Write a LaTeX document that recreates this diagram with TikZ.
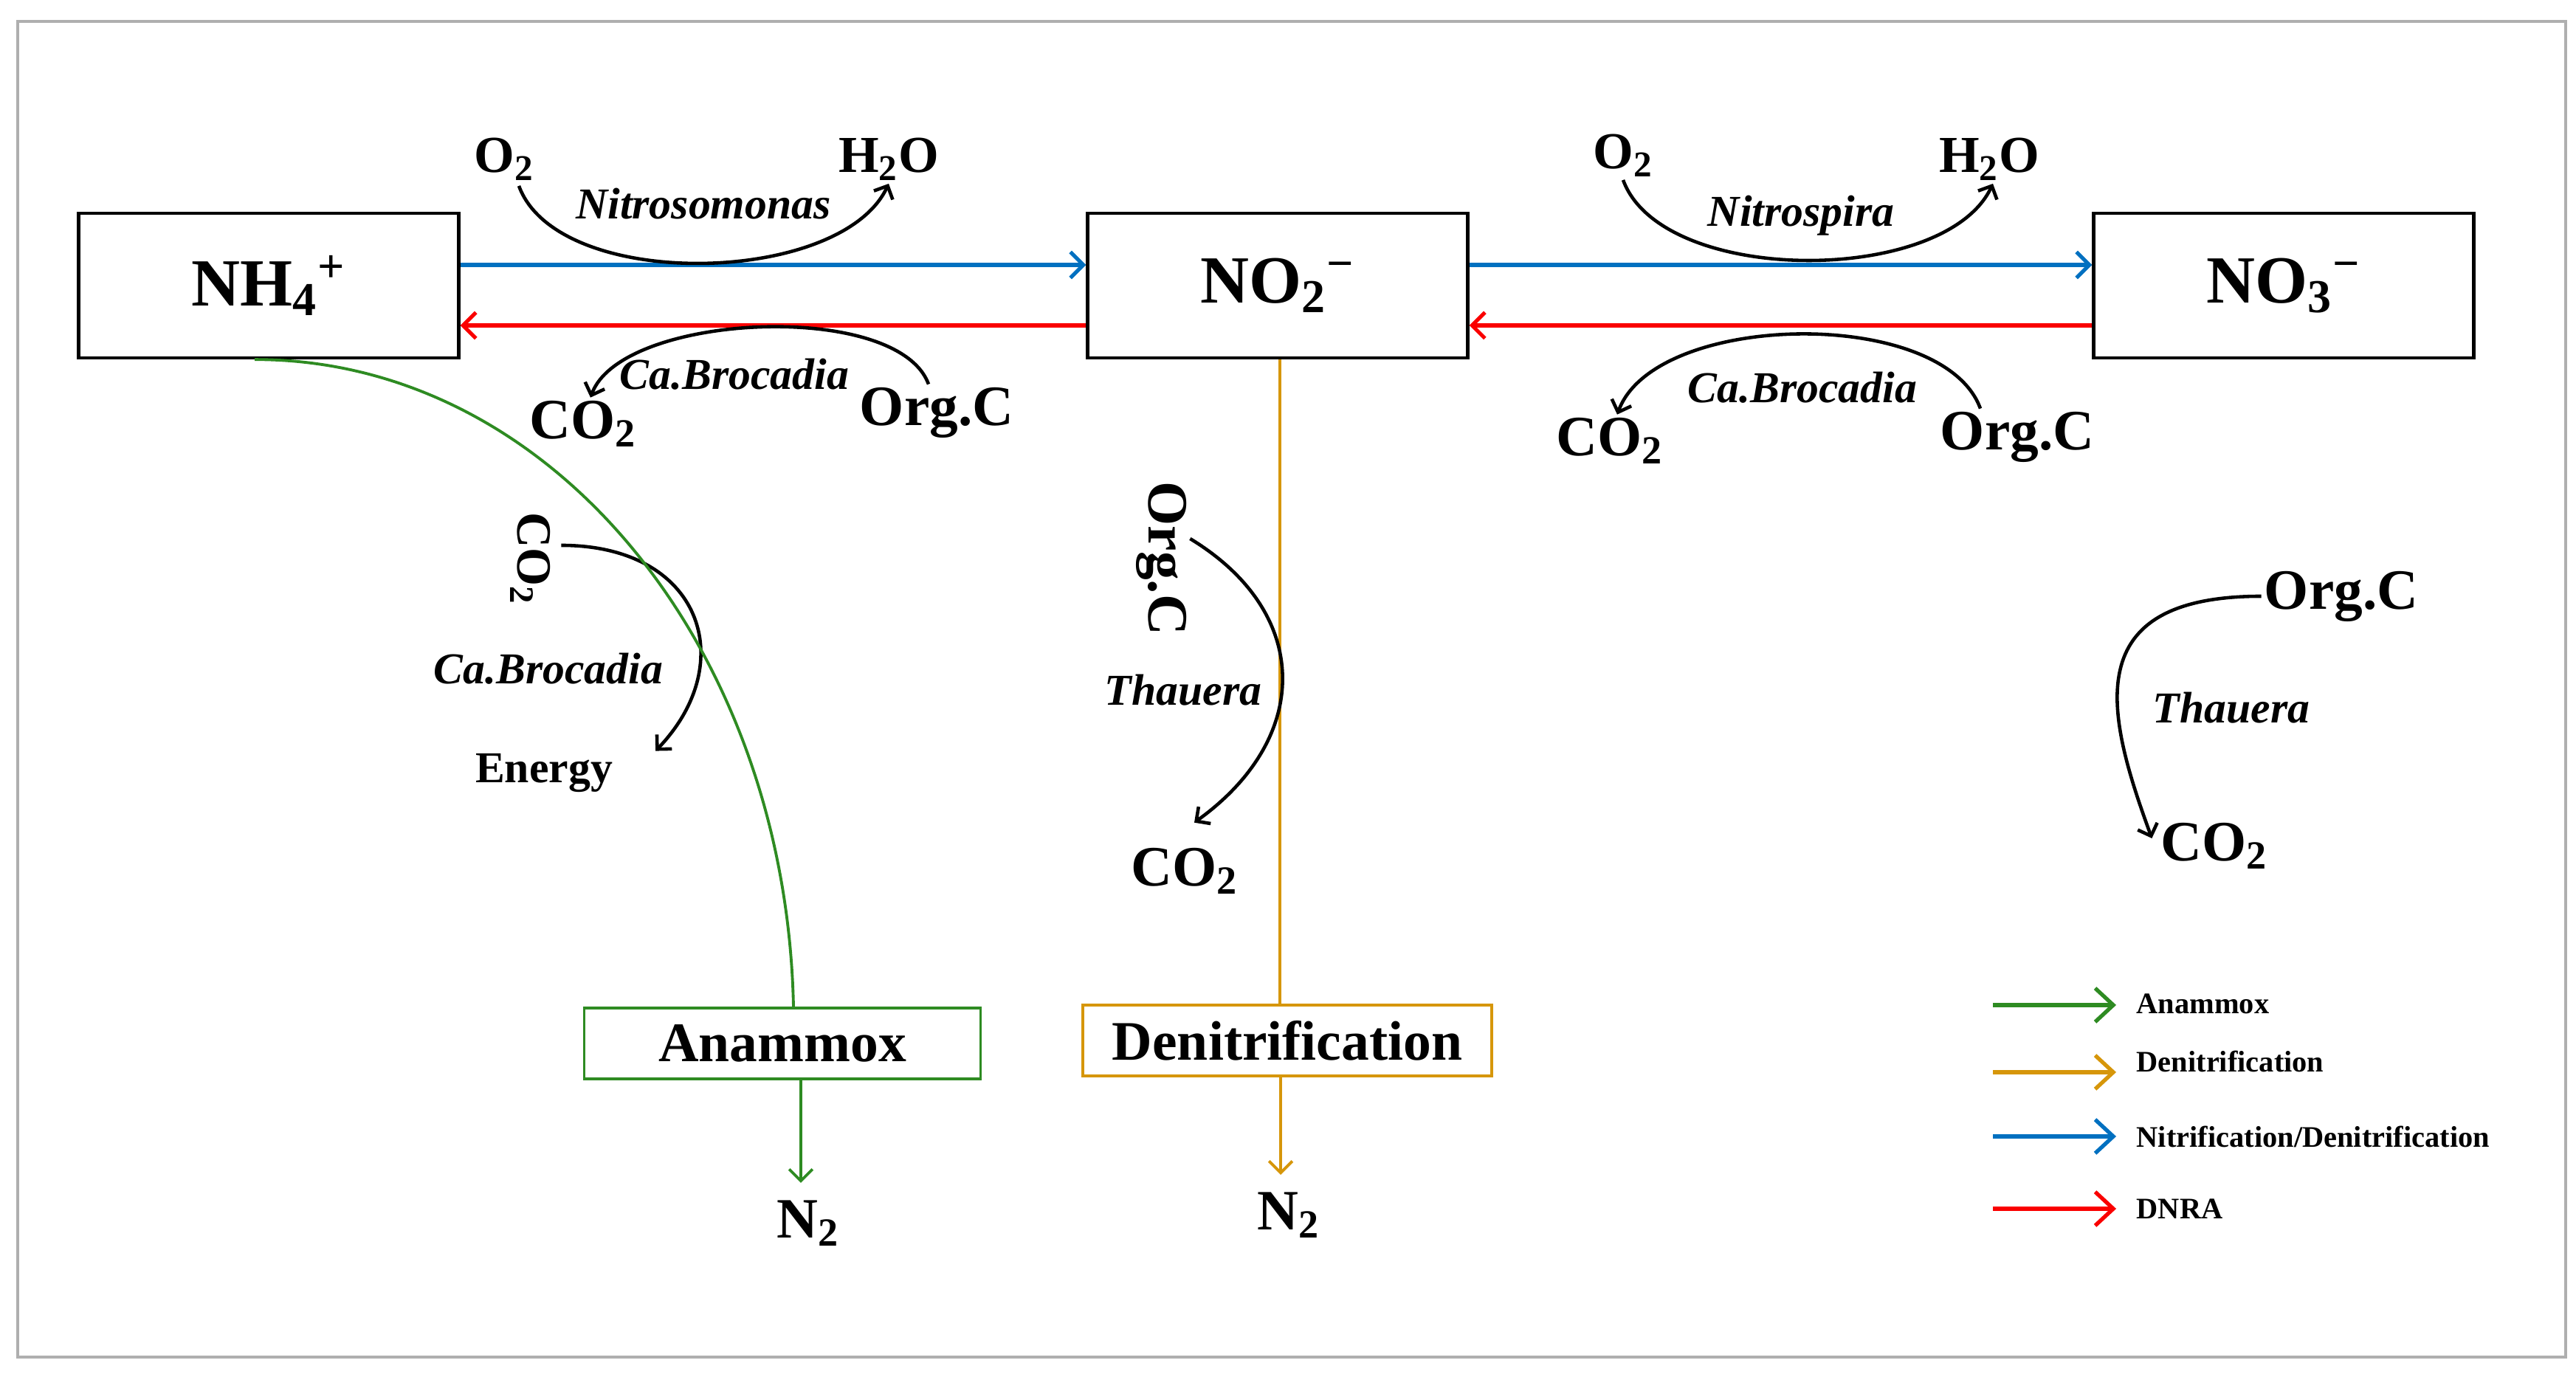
\documentclass[tikz,border=0pt]{standalone}
\usepackage{fontspec}
\setmainfont{Liberation Serif}
\usetikzlibrary{arrows.meta,positioning}

\definecolor{nitblue}{RGB}{0,112,192}
\definecolor{dnrared}{RGB}{250,0,0}
\definecolor{anamgreen}{RGB}{46,139,34}
\definecolor{denitgold}{RGB}{214,150,10}
\definecolor{framegray}{RGB}{175,175,175}

\begin{document}
\begin{tikzpicture}[
    ion/.style={draw, line width=1.25pt, minimum width=5.15cm, minimum height=1.96cm,
        font=\bfseries\fontsize{26}{30}\selectfont},
    proc/.style={draw, line width=1pt, minimum height=0.96cm, inner sep=0pt,
        font=\bfseries\fontsize{21.5}{25}\selectfont},
    gas/.style={inner sep=1pt, font=\bfseries\fontsize{20}{24}\selectfont},
    chem/.style={inner sep=1pt, font=\bfseries\fontsize{22}{26}\selectfont},
    bug/.style={inner sep=1pt, font=\bfseries\itshape\fontsize{17}{20}\selectfont},
    note/.style={inner sep=1pt, font=\bfseries\fontsize{17}{20}\selectfont},
    legtext/.style={anchor=west, inner sep=0pt, font=\bfseries\fontsize{11.5}{14}\selectfont},
    flow/.style={line width=1.45pt, -{Straight Barb[length=5pt,width=10pt]}},
    turn/.style={line width=1.3pt, -{Straight Barb[length=4pt,width=8pt]}},
    legarrow/.style={line width=1.5pt, -{Straight Barb[length=7pt,width=13pt]}},
]
    \useasboundingbox (0,0) rectangle (34.9,18.66);
    \draw[framegray, line width=1.3pt] (0.24,0.27) rectangle (34.76,18.37);

    % Draw the three nitrogen species
    \node[ion] (nh4) at (3.64,14.79) {NH\textsubscript{4}\textsuperscript{+}};
    \node[ion] (no2) at (17.31,14.79) {NO\textsubscript{2}\textsuperscript{\textminus}};
    \node[ion] (no3) at (30.94,14.79) {NO\textsubscript{3}\textsuperscript{\textminus}};

    % Draw the nitrification and DNRA arrows
    \draw[flow, nitblue] ([yshift=0.28cm]nh4.east) -- ([yshift=0.28cm]no2.west);
    \draw[flow, nitblue] ([yshift=0.28cm]no2.east) -- ([yshift=0.28cm]no3.west);
    \draw[flow, dnrared] ([yshift=-0.54cm]no2.west) -- ([yshift=-0.54cm]nh4.east);
    \draw[flow, dnrared] ([yshift=-0.54cm]no3.west) -- ([yshift=-0.54cm]no2.east);

    % Nitrosomonas and Nitrospira
    \node[gas] (o2a) at (6.83,16.50) {O\textsubscript{2}};
    \node[gas] (h2oa) at (12.04,16.50) {H\textsubscript{2}O};
    \node[bug] (nsm) at (9.53,15.90) {Nitrosomonas};
    \draw[turn] ([shift={(0.2,-0.03)}]o2a.south) to[out=-70,in=-115,looseness=0.78] (h2oa.south);

    \node[gas] (o2b) at (21.99,16.55) {O\textsubscript{2}};
    \node[gas] (h2ob) at (26.95,16.50) {H\textsubscript{2}O};
    \node[bug] (nsp) at (24.40,15.74) {Nitrospira};
    \draw[turn] (o2b.south) to[out=-70,in=-115,looseness=0.78] ([xshift=0.05cm]h2ob.south);

    % Ca.Brocadia under the DNRA arrows
    \node[chem] (co2a) at (7.90,12.92) {CO\textsubscript{2}};
    \node[chem] (orga) at (12.69,13.07) {Org.C};
    \node[bug] (cba) at (9.95,13.59) {Ca.Brocadia};
    \draw[turn] ([xshift=-0.11cm]orga.north) to[out=110,in=70,looseness=0.68] ([xshift=0.1cm]co2a.north);

    \node[chem] (co2b) at (21.81,12.69) {CO\textsubscript{2}};
    \node[chem] (orgb) at (27.33,12.74) {Org.C};
    \node[bug] (cbb) at (24.42,13.41) {Ca.Brocadia};
    \draw[turn] ([xshift=-0.5cm]orgb.north) to[out=110,in=70,looseness=0.77] ([xshift=0.1cm]co2b.north);

    % Anammox branch
    \node[chem, rotate=-90, font=\bfseries\fontsize{19}{22}\selectfont] (co2c) at (7.19,11.09) {CO\textsubscript{2}};
    \node[bug] (cbc) at (7.43,9.60) {Ca.Brocadia};
    \node[note] (energy) at (7.37,8.18) {Energy};
    \draw[turn] ([shift={(0.1,0.18)}]co2c.north) .. controls +(1.9,0) and +(1.15,1.2) .. ([shift={(0.54,0)}]energy.north east);

    \node[proc, draw=anamgreen, minimum width=5.37cm] (anam) at (10.60,4.52) {Anammox};
    \node[chem] (n2a) at (10.95,2.08) {N\textsubscript{2}};
    \coordinate (n2atip) at ([shift={(-0.1,0.2)}]n2a.north);
    \draw[anamgreen, line width=1.1pt] ([xshift=-0.19cm]nh4.south) .. controls +(4.03,0) and +(-0.1,4.85) .. ([xshift=0.15cm]anam.north);
    \draw[anamgreen, line width=1.1pt, -{Straight Barb[length=4.5pt,width=9pt]}] (anam.south -| n2atip) -- (n2atip);

    % Denitrification branch
    \node[chem, rotate=-90] (orgc) at (15.74,11.09) {Org.C};
    \node[bug] (thb) at (16.03,9.31) {Thauera};
    \node[chem] (co2d) at (16.05,6.86) {CO\textsubscript{2}};

    \node[proc, draw=denitgold, minimum width=5.54cm] (denit) at (17.44,4.56) {Denitrification};
    \node[chem] (n2b) at (17.46,2.19) {N\textsubscript{2}};
    \coordinate (n2btip) at ([shift={(-0.11,0.2)}]n2b.north);
    \draw[denitgold, line width=1.1pt] ([xshift=0.03cm]no2.south) -- ([xshift=0.03cm]no2.south |- denit.north);
    \draw[denitgold, line width=1.1pt, -{Straight Barb[length=4.5pt,width=9pt]}] (denit.south -| n2btip) -- (n2btip);
    \draw[turn] ([shift={(0.0,0.27)}]orgc.north) .. controls +(1.65,-1.0) and +(1.6,1.15) .. ([shift={(0.13,0.3)}]co2d.north);

    % Heterotrophic denitrification on the right
    \node[chem] (orgd) at (31.72,10.58) {Org.C};
    \node[bug] (thc) at (30.23,9.07) {Thauera};
    \node[chem] (co2e) at (30.00,7.20) {CO\textsubscript{2}};
    \draw[turn] (orgd.west) .. controls +(-2.5,0) and +(-0.62,1.69) .. ([shift={(-0.08,0.1)}]co2e.west);

    % Legend
    \node[legtext] (lg1) at (28.94,5.06) {Anammox};
    \node[legtext] (lg2) at (28.94,4.28) {Denitrification};
    \node[legtext] (lg3) at (28.94,3.26) {Nitrification/Denitrification};
    \node[legtext] (lg4) at (28.94,2.28) {DNRA};
    \coordinate (lg1s) at (27.00,5.04);
    \coordinate (lg2s) at (27.00,4.13);
    \coordinate (lg3s) at (27.00,3.26);
    \coordinate (lg4s) at (27.00,2.28);
    \draw[legarrow, anamgreen] (lg1s) -- ([xshift=-0.27cm]lg1s -| lg1.west);
    \draw[legarrow, denitgold] (lg2s) -- ([xshift=-0.27cm]lg2s -| lg2.west);
    \draw[legarrow, nitblue] (lg3s) -- ([xshift=-0.27cm]lg3s -| lg3.west);
    \draw[legarrow, dnrared] (lg4s) -- ([xshift=-0.27cm]lg4s -| lg4.west);
\end{tikzpicture}
\end{document}
